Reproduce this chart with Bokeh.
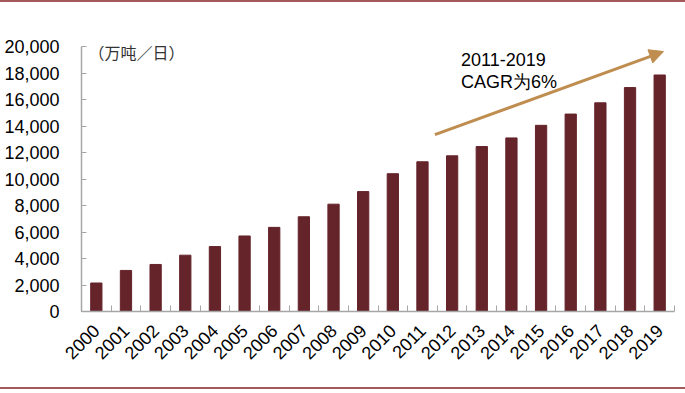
from bokeh.plotting import figure
from bokeh.models import (Range1d, FixedTicker, CustomJSTickFormatter, NumeralTickFormatter,
                          Label, Arrow, NormalHead, ColumnDataSource, Title)
from bokeh.embed import file_html
from bokeh.resources import INLINE
import math

years = ["2000", "2001", "2002", "2003", "2004", "2005", "2006", "2007", "2008", "2009",
         "2010", "2011", "2012", "2013", "2014", "2015", "2016", "2017", "2018", "2019"]
values = [2150, 3100, 3550, 4250, 4900, 5700, 6350, 7150, 8100, 9050,
          10400, 11300, 11750, 12450, 13100, 14050, 14900, 15750, 16900, 17850]
y_ticks = [0, 2000, 4000, 6000, 8000, 10000, 12000, 14000, 16000, 18000, 20000]
unit_text = "（万吨／日）"
note_line1 = "2011-2019"
note_line2 = "CAGR为6%"

BAR = "#65232A"
AXIS = "#A6A6A6"
ARROW = "#BF8D4F"
RULE = "#A5585B"
FONT = "Liberation Sans"

n = len(years)
xs = [i + 0.5 for i in range(n)]
src = ColumnDataSource(dict(x=xs, top=values, year=years))

p = figure(width=685, height=389, output_backend="svg", toolbar_location=None,
           x_range=Range1d(0, n), y_range=Range1d(0, 20000),
           min_border_left=81, min_border_right=11, min_border_top=44, min_border_bottom=80,
           styles={"border-top": "2px solid " + RULE, "border-bottom": "2px solid " + RULE})
p.outline_line_color = None
p.xgrid.visible = False
p.ygrid.visible = False
p.background_fill_color = "white"
p.border_fill_color = "white"

p.vbar(x="x", top="top", width=0.38, source=src, fill_color=BAR, line_color=BAR)

# x axis
xa = p.xaxis[0]
xa.ticker = FixedTicker(ticks=xs, minor_ticks=list(range(n + 1)))
xa.formatter = CustomJSTickFormatter(args=dict(labels=years),
                                     code="return labels[Math.floor(tick)];")
xa.major_label_orientation = math.pi / 4
xa.major_tick_in = 0
xa.major_tick_out = 0
xa.minor_tick_in = 6
xa.minor_tick_out = 0
xa.minor_tick_line_color = AXIS
xa.axis_line_color = AXIS
xa.axis_line_width = 1.5
xa.major_label_text_font = FONT
xa.major_label_text_font_size = "18px"
xa.major_label_text_color = "#000000"
xa.major_label_standoff = 16

# y axis
ya = p.yaxis[0]
ya.ticker = FixedTicker(ticks=y_ticks)
ya.formatter = NumeralTickFormatter(format="0,0")
ya.major_tick_in = 5
ya.major_tick_out = 0
ya.minor_tick_in = 0
ya.minor_tick_out = 0
ya.major_tick_line_color = AXIS
ya.axis_line_color = AXIS
ya.axis_line_width = 1.5
ya.major_label_text_font = FONT
ya.major_label_text_font_size = "18px"
ya.major_label_text_color = "#000000"
ya.major_label_standoff = 22

unit = Title(text=unit_text, align="left", offset=7, standoff=-34,
             text_font="Noto Sans CJK SC", text_font_size="16px",
             text_font_style="normal", text_color="#333333")
p.add_layout(unit, "above")

p.add_layout(Arrow(x_start=11.92, y_start=13350, x_end=19.63, y_end=19620,
                   line_color=ARROW, line_width=3,
                   end=NormalHead(size=14, fill_color=ARROW, line_color=ARROW)))

p.add_layout(Label(x=12.8, y=19020, text=note_line1, text_font=FONT,
                   text_font_size="18px", text_color="#000000", text_baseline="middle"))
p.add_layout(Label(x=12.8, y=17300, text=note_line2, text_font=FONT,
                   text_font_size="18px", text_color="#000000", text_baseline="middle"))

open("out.html", "w").write(file_html(p, INLINE))
